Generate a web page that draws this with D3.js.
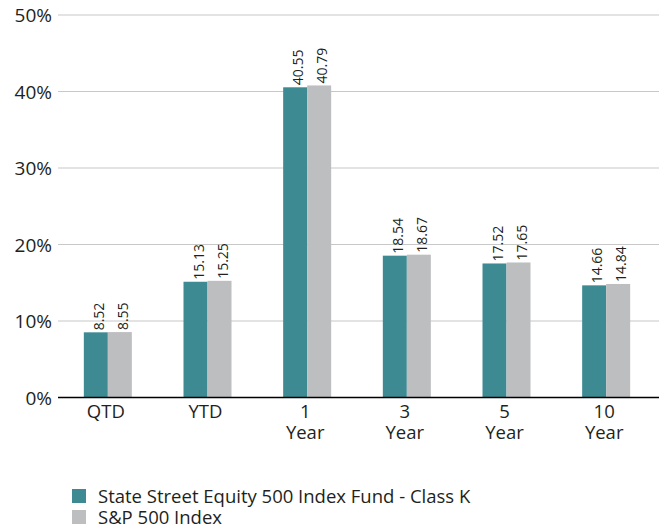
<!DOCTYPE html>
<html>
<head>
<meta charset="utf-8">
<script src="https://cdn.jsdelivr.net/npm/d3@7"></script>
<style>
  body { margin: 0; background: #fff; }
  svg text { font-family: "Open Sans", sans-serif; fill: #231f20; }
</style>
</head>
<body>
<svg id="chart" width="659" height="527"></svg>
<script>
var categories = [["QTD"], ["YTD"], ["1", "Year"], ["3", "Year"], ["5", "Year"], ["10", "Year"]];
var fundValues = [8.52, 15.13, 40.55, 18.54, 17.52, 14.66];
var indexValues = [8.55, 15.25, 40.79, 18.67, 17.65, 14.84];
var seriesNames = ["State Street Equity 500 Index Fund - Class K", "S&P 500 Index"];
var yTicks = [0, 10, 20, 30, 40, 50];

var colors = ["#3d8a93", "#bdbec0"];
var svg = d3.select("#chart");

var plotLeft = 58, plotRight = 656, plotTop = 15, plotBottom = 397.5;

var x = d3.scaleBand()
	.domain(d3.range(categories.length))
	.range([plotLeft, plotRight]);

var y = d3.scaleLinear()
	.domain([0, 50])
	.range([plotBottom, plotTop]);

var barW = 24;

// gridlines
svg.append("g").selectAll("line").data(yTicks.slice(1)).enter()
	.append("line")
	.attr("x1", plotLeft).attr("x2", 659)
	.attr("y1", function(d) { return y(d); })
	.attr("y2", function(d) { return y(d); })
	.attr("stroke", "#c8c8c8")
	.attr("stroke-width", 1.2);

// y labels
svg.append("g").selectAll("text").data(yTicks).enter()
	.append("text")
	.attr("x", 52)
	.attr("y", function(d) { return y(d) + 7; })
	.attr("text-anchor", "end")
	.style("font-size", "19px")
	.text(function(d) { return d + "%"; });

var series = [fundValues, indexValues];

series.forEach(function(vals, s) {
	var g = svg.append("g");
	g.selectAll("rect").data(vals).enter()
		.append("rect")
		.attr("x", function(d, i) { return x(i) + x.bandwidth() / 2 - barW + s * barW; })
		.attr("y", function(d) { return y(d); })
		.attr("width", barW)
		.attr("height", function(d) { return plotBottom - y(d); })
		.attr("fill", colors[s]);

	g.selectAll("text").data(vals).enter()
		.append("text")
		.attr("transform", function(d, i) {
			var cx = x(i) + x.bandwidth() / 2 - barW / 2 + s * barW + 8;
			return "translate(" + cx + "," + (y(d) - 2) + ") rotate(-90)";
		})
		.style("font-size", "14px")
		.text(function(d) { return d.toFixed(2); });
});

// baseline
svg.append("line")
	.attr("x1", plotLeft).attr("x2", 659)
	.attr("y1", plotBottom).attr("y2", plotBottom)
	.attr("stroke", "#000")
	.attr("stroke-width", 1.5);

// x labels
var xl = svg.append("g").selectAll("text").data(categories).enter()
	.append("text")
	.attr("x", function(d, i) { return x(i) + x.bandwidth() / 2 - 2; })
	.attr("y", 418)
	.attr("text-anchor", "middle")
	.style("font-size", "18.5px");
xl.selectAll("tspan").data(function(d) { return d; }).enter()
	.append("tspan")
	.attr("x", function() { return d3.select(this.parentNode).attr("x"); })
	.attr("dy", function(d, j) { return j === 0 ? 0 : 21; })
	.text(function(d) { return d; });

// legend
var lg = svg.append("g").selectAll("g").data(seriesNames).enter()
	.append("g")
	.attr("transform", function(d, i) { return "translate(72," + (489 + i * 21) + ")"; });
lg.append("rect")
	.attr("width", 14).attr("height", 14)
	.attr("fill", function(d, i) { return colors[i]; });
lg.append("text")
	.attr("x", 26).attr("y", 14)
	.style("font-size", "18.5px")
	.text(function(d) { return d; });
</script>
</body>
</html>
